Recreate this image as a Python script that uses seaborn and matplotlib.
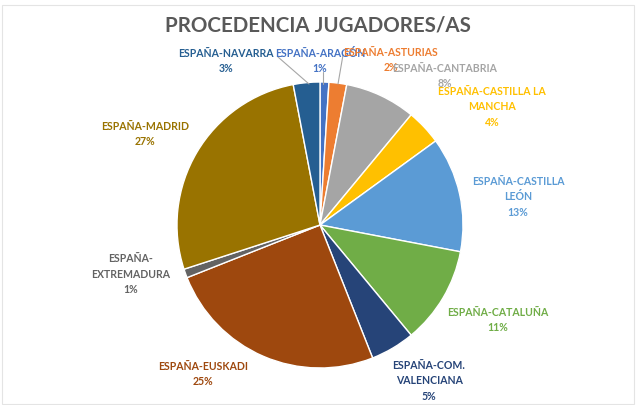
import matplotlib
matplotlib.use("Agg")
import matplotlib.pyplot as plt
import seaborn as sns

# ---- data ----
regions = ["ESPAÑA-ARAGÓN", "ESPAÑA-ASTURIAS", "ESPAÑA-CANTABRIA",
           "ESPAÑA-CASTILLA LA\nMANCHA", "ESPAÑA-CASTILLA\nLEÓN", "ESPAÑA-CATALUÑA",
           "ESPAÑA-COM.\nVALENCIANA", "ESPAÑA-EUSKADI", "ESPAÑA-\nEXTREMADURA",
           "ESPAÑA-MADRID", "ESPAÑA-NAVARRA"]
shares = [1, 2, 8, 4, 13, 11, 5, 25, 1, 27, 3]
colors = ["#4472C4", "#ED7D31", "#A5A5A5", "#FFC000", "#5B9BD5", "#70AD47",
          "#264478", "#9E480E", "#636363", "#997300", "#255E91"]
title = "PROCEDENCIA JUGADORES/AS"

# ---- layout (image pixel coords, y from top) ----
W, H = 640, 405
pie_center = (320, 225)
pie_radius = 143
label_centers = [(320, 61), (391, 60), (445, 76), (492, 107), (518, 197),
                 (498, 320), (429, 381), (203, 374), (131, 274), (145, 134),
                 (226, 61)]
leaders = [((323, 72), (323, 84)), ((343, 55), (338, 84)), ((278, 57), (309, 84))]

sns.set_theme(style="white")
plt.rcParams["font.family"] = ["Lato", "DejaVu Sans"]

fig = plt.figure(figsize=(W / 100, H / 100), dpi=100)
ax = fig.add_axes([0, 0, 1, 1])

palette = sns.color_palette(colors)
ax.pie(shares, colors=palette, startangle=90, counterclock=False,
       center=(pie_center[0], H - pie_center[1]), radius=pie_radius,
       wedgeprops=dict(edgecolor="white", linewidth=1.0), frame=True)
ax.set_xlim(0, W)
ax.set_ylim(0, H)
ax.set_aspect("equal")
ax.axis("off")

for (p0, p1) in leaders:
    ax.plot([p0[0], p1[0]], [H - p0[1], H - p1[1]], color="#A6A6A6", lw=0.8)

for name, val, col, (x, y) in zip(regions, shares, colors, label_centers):
    ax.text(x, H - y, f"{name}\n{val}%", color=col, fontsize=7.6, fontweight="bold",
            ha="center", va="center", multialignment="center", linespacing=1.45)

ax.text(318, H - 26, title, color="#595959", fontsize=14.8, fontweight="bold",
        ha="center", va="center")

# faint chart border
fig.patches.append(plt.Rectangle((0.003, 0.003), 0.987, 0.985, transform=fig.transFigure,
                                 fill=False, edgecolor="#E4E4E4", lw=0.8))

fig.savefig("out.png", dpi=100, facecolor="white")
